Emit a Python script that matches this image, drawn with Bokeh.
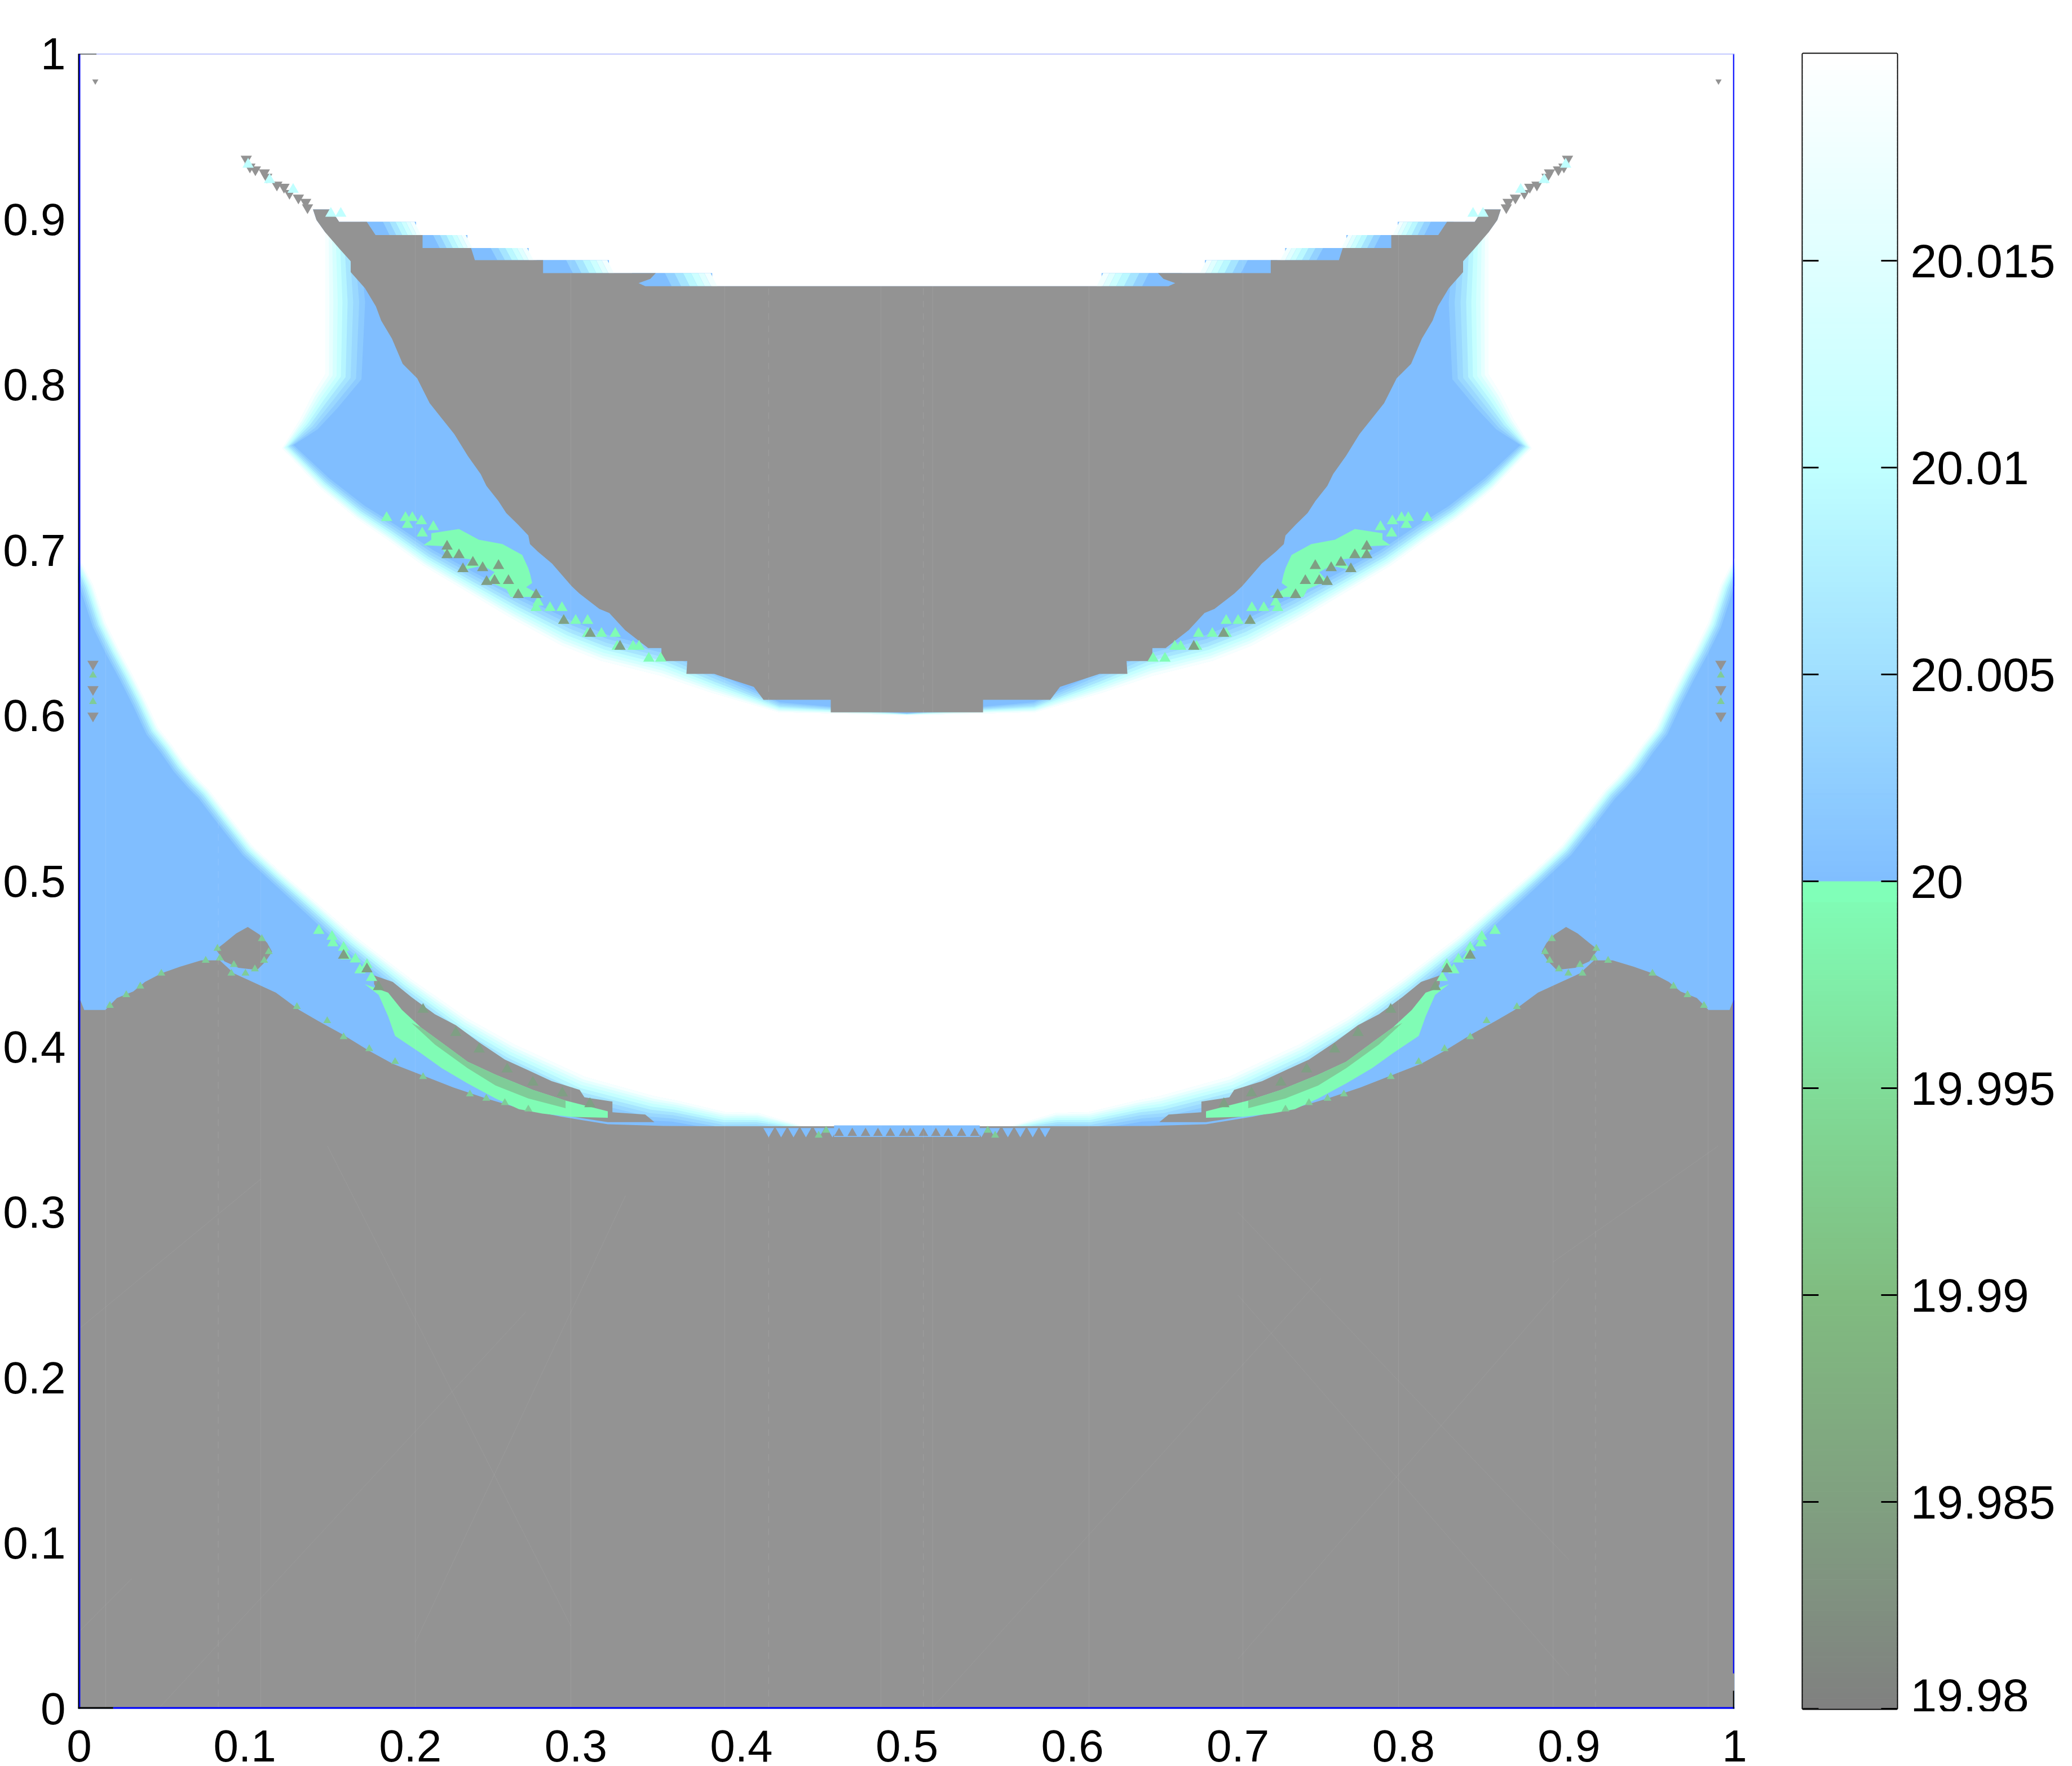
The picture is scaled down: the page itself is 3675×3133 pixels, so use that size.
import numpy as np
from bokeh.embed import file_html
from bokeh.resources import INLINE
from bokeh.plotting import figure
from bokeh.layouts import row
from bokeh.models import FixedTicker

# ---------- axis texts
axis_ticks = [0, .1, .2, .3, .4, .5, .6, .7, .8, .9, 1]
axis_labels = ["0", "0.1", "0.2", "0.3", "0.4", "0.5", "0.6", "0.7", "0.8", "0.9", "1"]
bar_ticks = [19.98, 19.985, 19.99, 19.995, 20, 20.005, 20.01, 20.015]
bar_labels = ["19.98", "19.985", "19.99", "19.995", "20", "20.005", "20.01", "20.015"]

# ---------- colour scale anchors
low_vals = [19.98, 19.985, 19.99, 19.995, 20.0]
low_rgb = [(128, 128, 128), (128, 160, 128), (128, 188, 128), (128, 220, 152), (128, 255, 184)]
high_vals = [20.0, 20.01, 20.02]
high_rgb = [(128, 190, 255), (192, 255, 255), (255, 255, 255)]
GREY = "#939393"

# ---------- contour of the lower edge of the white band (left half): x, y, fade width
arc_x = [0, .0083, .0157, .0236, .0315, .0396, .0475, .0556, .0634, .0714, .0782, .0907, .1046, .1216, .1442, .1668,
         .2007, .2345, .2628, .3052, .3475, .3608, .39, .41, .437, .5]
arc_y = [.695, .679, .6564, .6404, .6258, .6098, .5928, .5826, .5713, .5621, .5553, .539, .5213, .5056, .4862, .4665,
         .4406, .4171, .4014, .3819, .3701, .3675, .3605, .36, .352, .352]
arc_w = [.006, .008, .008, .008, .008, .008, .008, .008, .008, .008, .008, .008, .008, .008, .009, .01,
         .012, .014, .016, .017, .015, .013, .011, .01, .003, .001]

# ---------- contour of the upper wing: centre -> tip -> up the vertical edge
wing_x = [.5, .4227, .3824, .3513, .3155, .2916, .2604, .2319, .2079, .1864, .1673, .1456, .1227, .1335, .1412, .1487, .1487, .1487]
wing_y = [.6005, .6022, .6139, .6243, .6333, .6425, .6595, .6766, .6908, .7065, .7195, .7376, .7617, .779, .7943, .8063, .85, .892]
wing_w = [.001, .006, .012, .016, .016, .016, .014, .012, .011, .01, .009, .008, .007, .012, .017, .022, .024, .02]
wing_top_x = [.1433, .1412, .152, .157, .2035, .2035, .2345, .2345, .2715, .2715, .32, .32, .3824, .3824, .5]
wing_top_y = [.8996, .906, .906, .8985, .8985, .8905, .8905, .8827, .8827, .8753, .8753, .8675, .8675, .8596, .8596]

# ---------- fading shelves on the top of the grey bowl: y top, y bottom, x start, x end
shelf_top = [.8985, .8905, .8827, .8753, .8675]
shelf_bot = [.8905, .8827, .8753, .8675, .8596]
shelf_x0 = [.1737, .2035, .2367, .2802, .3379]
shelf_x1 = [.2065, .2375, .2745, .323, .3854]

# ---------- grey bowl (left half): along the top then down the flank
bowl_x = [.5, .342, .3379, .345, .3483, .2802, .2802, .239, .2367, .2074, .2074, .179, .1737, .157, .152, .1412,
          .1433, .1487, .1574, .164, .164, .1726, .1792, .1824, .1889, .1954, .2041, .2117, .2192, .2266, .2347,
          .2425, .246, .2532, .2579, .2651, .2713, .2723, .2771, .2856, .2975, .3023, .3142, .3202, .3298, .3437,
          .3517, .3517, .3673, .3668, .3836, .4075, .4134, .454, .454, .5]
bowl_y = [.8596, .8596, .8615, .864, .8675, .8675, .8753, .8753, .8827, .8827, .8905, .8905, .8985, .8985, .906, .906,
          .8996, .892, .882, .8747, .8681, .8584, .8474, .8388, .8279, .8127, .804, .7889, .7795, .7702, .7571,
          .7461, .7389, .7298, .7226, .7155, .709, .7038, .6992, .692, .6783, .6738, .6646, .6621, .6517, .6409,
          .6409, .6331, .6331, .6253, .6253, .6175, .6097, .6097, .6021, .6021]

# ---------- lower grey mass (left half, top edge)
floor_x = [0, .0007, .003, .0157, .0228, .0326, .0397, .0496, .0609, .0736, .0849, .0934, .1075, .1188, .1329, .1442,
           .1584, .1753, .1894, .2062, .226, .2458, .2655, .291, .3193, .353, .3922, .5]
floor_y = [.4281, .4281, .4223, .4223, .4295, .4334, .4392, .4444, .4484, .4522, .4522, .4444, .4379, .4327, .4223, .4157,
           .4079, .3975, .3897, .3832, .3754, .3688, .363, .3578, .3532, .3522, .352, .352]

# ---------- grey blob near x=0.1
blob_x = [.1018, .1089, .1136, .1165, .1126, .1075, .0962, .0877, .0826, .0877, .0948]
blob_y = [.4724, .4678, .4627, .4574, .4516, .4464, .4477, .4516, .4587, .4627, .4685]

# ---------- grey lens and green crescent along the lower arc
lens_x = [.1781, .1894, .2007, .2148, .2275, .2416, .2571, .2713, .2854, .3023, .3052, .3221, .3221, .3419, .3475,
          .3193, .2938, .2769, .2487, .2261, .2063, .1922, .1866, .1781]
lens_y = [.4431, .4392, .43, .4197, .4131, .4027, .3923, .3858, .3793, .374, .3695, .3669, .3604, .3591, .3545,
          .3545, .3584, .361, .3714, .3832, .4014, .4105, .4223, .4379]
crescent_x = [.1724, .1809, .1866, .1908, .2063, .219, .2346, .2515, .2656, .2797, .2967, .3193, .3193, .2938, .274,
              .2515, .2346, .2205, .2063, .195, .1866]
crescent_y = [.4379, .4314, .4184, .4066, .3962, .3871, .3779, .3688, .3623, .3597, .3577, .3571, .361, .3675, .374,
              .3832, .391, .4014, .4118, .4223, .4327]
crescent_dark_x = [.2007, .2148, .2346, .2515, .2713, .2938, .2938, .274, .2515, .2346, .2205, .2063]
crescent_dark_y = [.4144, .4014, .3871, .3766, .3688, .3629, .3675, .374, .3832, .391, .4014, .4118]

# ---------- green patch in the wing
patch_x = [.2127, .2294, .2414, .2557, .2676, .2712, .2724, .2736, .27, .2808, .2605, .2581, .2461, .2509, .2437, .2318,
           .2366, .2246, .2198, .2222, .2079, .2127]
patch_y = [.7103, .7129, .7064, .7038, .6972, .6894, .6855, .6803, .6777, .6718, .6718, .6764, .6816, .6868, .6907, .6881,
           .6946, .6959, .6998, .7024, .7031, .7064]

# ---------- isolated mesh triangles
green_x = [.1857, .1971, .2012, .1983, .2067, .2139, .2072, .2772, .276, .2844, .2916, .2927, .2999, .3071, .3071, .3155,
           .3238, .325, .3346, .3382, .3441, .3513, .1447, .1527, .1532, .1597, .1611, .1668, .1738, .1696, .1766]
green_y = [.7197, .7197, .7197, .7155, .7177, .7142, .7103, .6686, .6653, .6653, .6653, .6575, .6575, .6575, .6497, .6497,
           .6497, .6419, .6419, .6419, .6347, .6347, .4702, .4666, .4627, .46, .4548, .4529, .4496, .4464, .4418]
edge_green_x = [.0835, .0849, .1103, .1145, .1117, .1061, .0934, .0764, .1004, .0919, .0496, .1315, .1498, .1597, .1752,
                .1908, .2077, .236, .2459, .2571, .2713, .0185, .0284, .0369, .4467, .4512, .0083, .0083]
edge_green_y = [.4594, .4535, .4653, .4574, .4522, .447, .4496, .4522, .4444, .4444, .4444, .4242, .4157, .406, .3988,
                .391, .3819, .3714, .3688, .3662, .3623, .4249, .4314, .4366, .3465, .3495, .6245, .6085]
dark_x = [.2222, .2222, .2294, .2378, .2437, .2533, .2509, .2593, .2318, .2652, .276, .2461, .2927, .3087, .3267, .1597, .1738, .1808,
          .2077, .2275, .2416, .2585, .274, .2918, .3085]
dark_y = [.7024, .6972, .6972, .6927, .6894, .6907, .6816, .6816, .6888, .6731, .6731, .681, .6575, .6497, .6419, .4552, .4470, .4362,
          .4225, .4085, .3985, .3865, .3785, .3720, .3655]
tail_x = [.1009, .1031, .1064, .1118, .1133, .1194, .1237, .127, .1324, .1368, .1379, .0083, .0083, .0083]
tail_y = [.9365, .9317, .93, .9282, .9256, .9208, .9195, .9158, .913, .9104, .9071, .6313, .616, .6]
corner_x = [.0097]
corner_y = [.9834]
tail_pale_x = [.102, .115, .1292, .152, .158]
tail_pale_y = [.9332, .9239, .918, .9035, .9035]
strip_tri_x = [.459, .467, .475, .4825, .49, .498]
strip_hole_x = [.4165, .424, .4315, .439, .447, .455]

# ---------- faint mesh seams
seam_x = [.016, .1096, .203, .297, .39, .4843, .5157, .61, .703, .797, .8904, .984]
seam_dash_x = [.084, .4165, .51, .916]
diag_x0 = [.0004, .0479, .0004, .2030, .2970, .5157, .7, .7, .9, .8904]
diag_y0 = [.0471, .0001, .2300, .0400, .0500, .0010, .3000, .0300, .0200, .2700]
diag_x1 = [.0317, .2700, .1096, .3300, .1500, .7500, .9, .9, .7, .9900]
diag_y1 = [.0786, .2400, .3200, .3100, .3400, .2600, .0900, .2600, .2500, .3400]


def colour(v):
    if v < 20:
        r = [np.interp(v, low_vals, [c[i] for c in low_rgb]) for i in range(3)]
    else:
        r = [np.interp(v, high_vals, [c[i] for c in high_rgb]) for i in range(3)]
    return "#%02x%02x%02x" % tuple(int(round(c)) for c in r)


def mx(xs):
    return [1 - a for a in xs]


def whole(xs, ys):
    """left half + mirrored right half"""
    return list(xs) + mx(xs)[::-1], list(ys) + list(ys)[::-1]


def band(xs, ys, ws, t):
    x, y, w = np.array(xs, float), np.array(ys, float), np.array(ws, float)
    tx, ty = np.gradient(x), np.gradient(y)
    n = np.hypot(tx, ty)
    nx, ny = ty / n, -tx / n
    return list(x) + list((x + nx * w * t)[::-1]), list(y) + list((y + ny * w * t)[::-1])


p = figure(frame_width=2938, frame_height=2936, x_range=(-.0007, 1), y_range=(0, 1), output_backend="svg",
           toolbar_location=None, min_border_left=138, min_border_top=92, min_border_right=60, min_border_bottom=130,
           background_fill_color=colour(20.0), border_fill_color="white", outline_line_color=None)
p.grid.visible = False
for ax in (p.xaxis[0], p.yaxis[0]):
    ax.ticker = FixedTicker(ticks=axis_ticks)
    ax.major_label_overrides = dict(zip(axis_ticks, axis_labels))
    ax.major_tick_in = 0
    ax.major_tick_out = 0
    ax.minor_tick_in = 0
    ax.minor_tick_out = 0
    ax.major_label_text_font = "Liberation Sans"
    ax.major_label_text_font_size = "80px"
    ax.major_label_text_color = "black"
    ax.axis_line_color = None
p.xaxis.major_label_standoff = 38
p.yaxis.major_label_standoff = 22

# gradient bands under the white region
fade_t = [1, .85, .7, .56, .43, .31, .2, .1]
fade_v = [20.002, 20.004, 20.006, 20.0085, 20.011, 20.0135, 20.016, 20.0185]
for t, v in zip(fade_t, fade_v):
    for xs, ys, ws in ((arc_x, arc_y, arc_w), (wing_x, wing_y, wing_w)):
        bx, by = band(xs, ys, ws, t)
        p.patch(bx, by, fill_color=colour(v), line_color=None)
        p.patch(mx(bx), by, fill_color=colour(v), line_color=None)

# white region with the wing/bowl hole
ax_f, ay_f = whole(arc_x, arc_y)
outer_x = [-.001] + [-.001] + ax_f + [1, 1]
outer_y = [1] + [ay_f[0]] + ay_f + [ay_f[-1], 1]
hl_x = list(wing_x) + wing_top_x
hl_y = list(wing_y) + wing_top_y
hole_x = hl_x + mx(hl_x)[::-1]
hole_y = hl_y + hl_y[::-1]
p.multi_polygons(xs=[[[outer_x, hole_x]]], ys=[[[outer_y, hole_y]]], fill_color="white", line_color=None)

# fading shelves (the last slice closes on white)
shelf_v = [20.0, 20.003, 20.006, 20.009, 20.012, 20.015, 20.018]
shelf_shear = .004
for yt, yb, x0, x1 in zip(shelf_top, shelf_bot, shelf_x0, shelf_x1):
    s = (x1 - x0)
    edges = [x0, x0 + .42 * s, x0 + .54 * s, x0 + .65 * s, x0 + .75 * s, x0 + .84 * s, x0 + .92 * s, x1]
    for i, v in enumerate(shelf_v):
        qx = [edges[i] - shelf_shear, edges[i + 1] - shelf_shear, edges[i + 1], edges[i]]
        p.patch(qx, [yt, yt, yb, yb], fill_color=colour(v), line_color=None)
        p.patch(mx(qx), [yt, yt, yb, yb], fill_color=colour(v), line_color=None)

# grey masses
bx, by = whole(bowl_x, bowl_y)
p.patch(bx, by, fill_color=GREY, line_color=None)
fx, fy = whole(floor_x, floor_y)
p.patch([-.001, -.001] + fx + [1], [0, fy[0]] + fy + [0], fill_color=GREY, line_color=None)
for xs, ys in ((blob_x, blob_y), (lens_x, lens_y)):
    p.patch(xs, ys, fill_color=GREY, line_color=None)
    p.patch(mx(xs), ys, fill_color=GREY, line_color=None)

# centre strip at the bottom of the white band, with its teeth
p.quad(left=[.456], right=[.544], bottom=[.3455], top=[.3525], fill_color=colour(20.0), line_color=None)
p.scatter(strip_hole_x + mx(strip_hole_x), [.349] * 12, marker="inverted_triangle", size=19,
          fill_color=colour(20.0), line_color=None)
p.scatter(strip_tri_x + mx(strip_tri_x), [.3478] * 12, marker="triangle", size=17, fill_color=GREY, line_color=None)

# green features
BRIGHT = colour(19.9995)
for xs, ys, c in ((crescent_x, crescent_y, BRIGHT), (crescent_dark_x, crescent_dark_y, "#7fcc98"), (patch_x, patch_y, BRIGHT)):
    p.patch(xs, ys, fill_color=c, line_color=None)
    p.patch(mx(xs), ys, fill_color=c, line_color=None)
p.scatter(green_x + mx(green_x), green_y + green_y, marker="triangle", size=20, fill_color=BRIGHT, line_color=None)
p.scatter(edge_green_x + mx(edge_green_x), edge_green_y + edge_green_y, marker="triangle", size=14, fill_color="#7fcc98", line_color=None)
p.scatter(dark_x + mx(dark_x), dark_y + dark_y, marker="triangle", size=20, fill_color="#7f9f84", line_color=None)
p.scatter(tail_x + mx(tail_x), tail_y + tail_y, marker="inverted_triangle", size=20, fill_color=GREY, line_color=None)
p.scatter(corner_x + mx(corner_x), corner_y + corner_y, marker="inverted_triangle", size=11, fill_color=GREY, line_color=None)
p.scatter(tail_pale_x + mx(tail_pale_x), tail_pale_y + tail_pale_y, marker="triangle", size=20, fill_color="#c0ffff", line_color=None)

# seams
p.segment(x0=seam_x, y0=[0] * len(seam_x), x1=seam_x, y1=[1] * len(seam_x), line_color="white", line_alpha=.09, line_width=1)
p.segment(x0=seam_dash_x, y0=[0] * len(seam_dash_x), x1=seam_dash_x, y1=[1] * len(seam_dash_x), line_color="white",
          line_alpha=.12, line_width=1, line_dash="12 10")
p.segment(x0=diag_x0, y0=diag_y0, x1=diag_x1, y1=diag_y1, line_color="white", line_alpha=.07, line_width=1)

# mesh border lines
p.line([-.0004, -.0004], [0, 1], line_color="black", line_width=3)
p.line([.0003, .0003], [0, 1], line_color="#0000ff", line_width=2)
p.line([.9994, .9994], [.0214, 1], line_color="#0000ff", line_width=2)
p.line([.0205, 1], [0, 0], line_color="#0000ff", line_width=6)
p.line([-.0007, .0205], [0, 0], line_color="black", line_width=6)
p.line([.0104, 1], [1, 1], line_color="#a0a0ff", line_width=2)
p.line([-.0007, .0104], [1, 1], line_color="black", line_width=2)
p.line([.9994, .9994], [0, .0109], line_color="black", line_width=2)

# ---------- colour bar
c = figure(frame_width=167, frame_height=2936, x_range=(0, 1), y_range=(19.98, 20.02), output_backend="svg",
           toolbar_location=None, min_border_left=61, min_border_top=95, min_border_right=10, min_border_bottom=5,
           x_axis_location=None, y_axis_location="right", outline_line_color="black", outline_line_width=4,
           border_fill_color="white")
c.grid.visible = False
edges = np.linspace(19.98, 20.02, 321)
mids = (edges[:-1] + edges[1:]) / 2
cols = [colour(m) for m in mids]
c.quad(left=0, right=1, bottom=edges[:-1], top=edges[1:], fill_color=cols, line_color=cols, line_width=1)
c.quad(left=[0], right=[1], bottom=[19.9995], top=[20.0], fill_color=colour(19.99995), line_color=None)
ra = c.yaxis[0]
ra.ticker = FixedTicker(ticks=bar_ticks)
ra.major_label_overrides = dict(zip(bar_ticks, bar_labels))
ra.major_tick_in = 28
ra.major_tick_out = 0
ra.minor_tick_in = 0
ra.minor_tick_out = 0
ra.major_tick_line_width = 3
ra.axis_line_color = None
ra.major_label_standoff = 24
ra.major_label_text_font = "Liberation Sans"
ra.major_label_text_font_size = "84px"
ra.major_label_text_color = "black"
# inner ticks on the left side of the bar
tick_len = 28 / 167
c.segment(x0=[0] * 8, y0=bar_ticks, x1=[tick_len] * 8, y1=bar_ticks, line_color="black", line_width=3)

page = row(p, c, spacing=0)
open("out.html", "w").write(file_html(page, INLINE))
